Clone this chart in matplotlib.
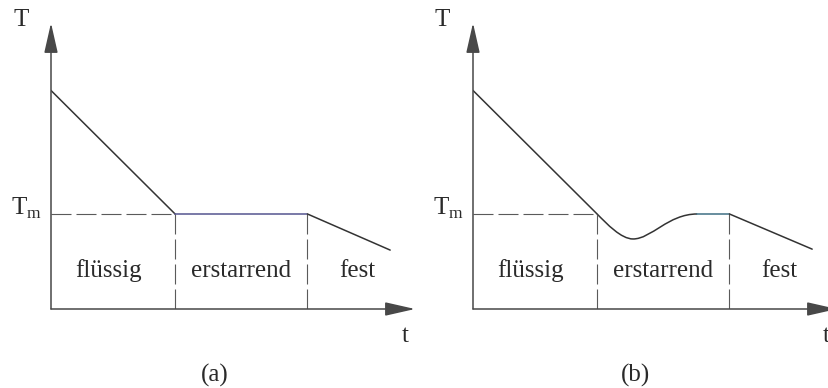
import matplotlib
matplotlib.use("Agg")
import matplotlib.pyplot as plt
from matplotlib.path import Path
from matplotlib.patches import PathPatch

plt.rcParams["font.family"] = ["Liberation Serif", "DejaVu Serif"]
plt.rcParams["mathtext.fontset"] = "custom"
plt.rcParams["mathtext.rm"] = "Liberation Serif"

W, H = 829, 388

# Cooling curves (time units, temperature units with T_m = 1)
T_m = 1.0
t_phase = [0.0, 3.0, 6.2]          # start of liquid / solidifying / solid ranges
t_end = 8.2
phase_labels = ["flüssig", "erstarrend", "fest"]
label_t = [1.38, 4.6, 7.4]

# (a) ideal: straight cooling, plateau at T_m, straight cooling
a_t = [0.0, 3.0, 6.2, 8.2]
a_T = [2.3, 1.0, 1.0, 0.62]

# (b) undercooling: liquid line, dip below T_m (Bezier knots/handles), solid line
b_liq_t = [0.0, 3.0]
b_liq_T = [2.3, 1.0]
b_dip_t = [3.0, 3.24, 3.58, 3.87, 4.31, 4.72, 5.42]
b_dip_T = [1.0, 0.895, 0.737, 0.737, 0.737, 1.0, 1.0]
b_rest_t = [5.42, 6.2, 8.2]
b_rest_T = [1.0, 1.0, 0.63]

x_max, y_max = 8.8, 3.01
line_col = "#333333"
axis_col = "#484848"
dash_col = "#5a5a5a"

fig = plt.figure(figsize=(W / 100, H / 100), dpi=100)


def make_axes(left_px):
    ax = fig.add_axes([left_px / W, (H - 309) / H, 364 / W, 286 / H])
    ax.set_xlim(0, x_max)
    ax.set_ylim(0, y_max)
    ax.axis("off")
    return ax


def draw_frame(ax):
    arrow = dict(arrowstyle="-|>,head_length=1.85,head_width=0.42",
                 mutation_scale=10, color=axis_col, lw=1.1,
                 shrinkA=0, shrinkB=0)
    ax.annotate("", xy=(0, y_max), xytext=(0, 0), arrowprops=arrow,
                annotation_clip=False)
    ax.annotate("", xy=(x_max, 0), xytext=(0, 0), arrowprops=arrow,
                annotation_clip=False)
    dash = dict(color=dash_col, lw=0.8, linestyle=(0, (18, 4.5)))
    ax.plot([0, t_phase[1]], [T_m, T_m], **dash)
    for tp in t_phase[1:]:
        ax.plot([tp, tp], [0, T_m], **dash)
    for lab, tx in zip(phase_labels, label_t):
        ax.text(tx, 0.34, lab, ha="center", va="baseline", fontsize=18,
                color="#2a2a2a")


def fig_text(x, y, s, **kw):
    fig.text(x / W, 1 - y / H, s, ha="center", va="center", fontsize=18,
             color="#2a2a2a", **kw)


# panel (a)
ax_a = make_axes(51)
draw_frame(ax_a)
ax_a.plot(a_t[:2], a_T[:2], color=line_col, lw=1.1, solid_capstyle="round")
ax_a.plot(a_t[1:3], a_T[1:3], color="#55558f", lw=1.1)
ax_a.plot(a_t[2:], a_T[2:], color=line_col, lw=1.1, solid_capstyle="round")

# panel (b)
ax_b = make_axes(473)
draw_frame(ax_b)
ax_b.plot(b_liq_t, b_liq_T, color=line_col, lw=1.1, solid_capstyle="round")
codes = [Path.MOVETO] + [Path.CURVE4] * 6
dip = Path(list(zip(b_dip_t, b_dip_T)), codes)
ax_b.add_patch(PathPatch(dip, fill=False, edgecolor=line_col, lw=1.1))
ax_b.plot(b_rest_t[:2], b_rest_T[:2], color="#3f6f84", lw=1.1)
ax_b.plot(b_rest_t[1:], b_rest_T[1:], color=line_col, lw=1.1,
          solid_capstyle="round")

# axis labels and captions
fig_text(21, 20, "T")
fig_text(26, 208, r"T$_{\mathrm{m}}$")
fig_text(405, 336, "t")
fig_text(215, 375, "(a)")
fig_text(442, 20, "T")
fig_text(448, 208, r"T$_{\mathrm{m}}$")
fig_text(826, 336, "t")
fig_text(636, 375, "(b)")

fig.savefig("out.png", dpi=100, facecolor="white")
